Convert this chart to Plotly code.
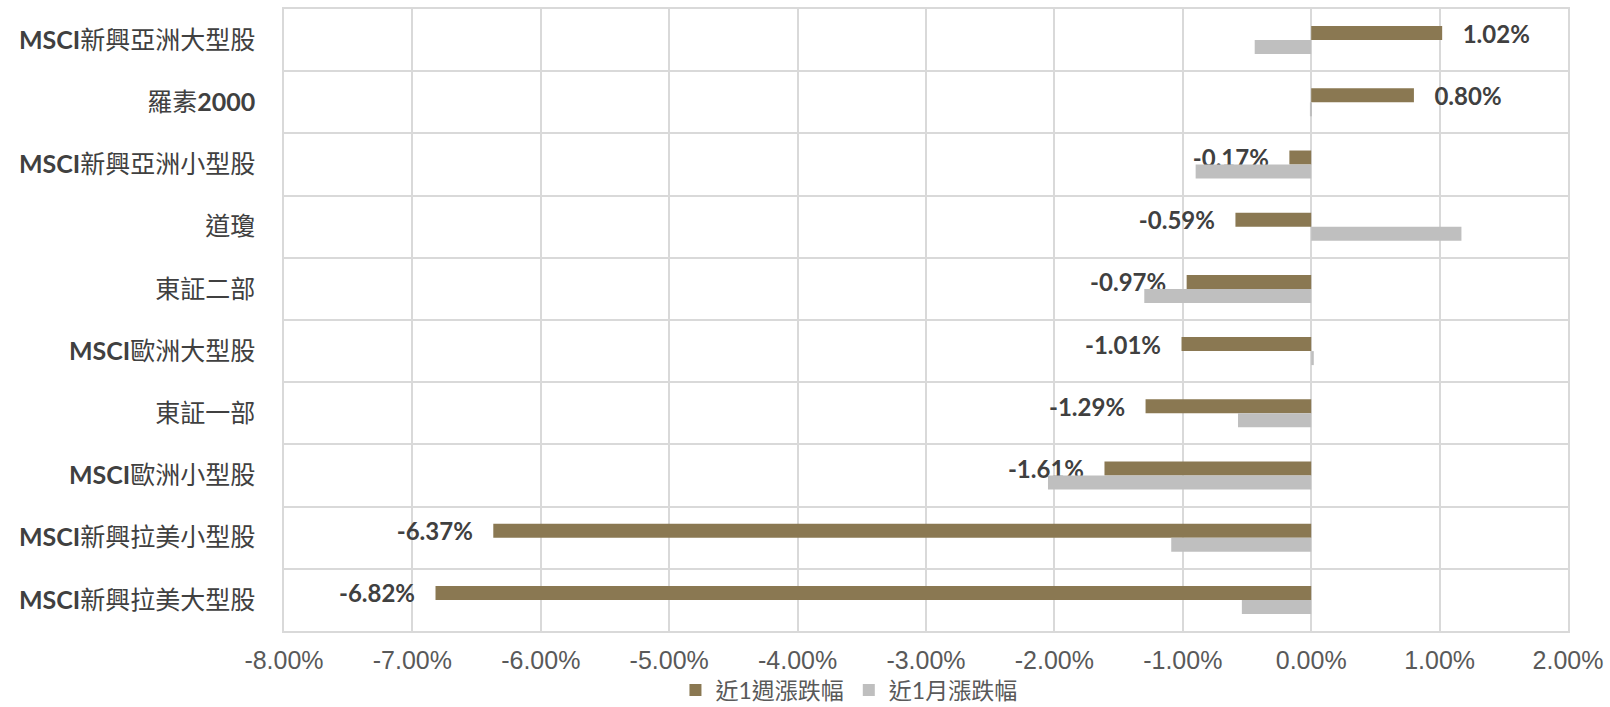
import re
import plotly.graph_objects as go

categories = ["MSCI新興亞洲大型股", "羅素2000", "MSCI新興亞洲小型股", "道瓊", "東証二部",
              "MSCI歐洲大型股", "東証一部", "MSCI歐洲小型股", "MSCI新興拉美小型股", "MSCI新興拉美大型股"]
week_chg = [1.02, 0.80, -0.17, -0.59, -0.97, -1.01, -1.29, -1.61, -6.37, -6.82]
month_chg = [-0.44, -0.01, -0.90, 1.17, -1.30, 0.02, -0.57, -2.05, -1.09, -0.54]
x_ticks = [-8, -7, -6, -5, -4, -3, -2, -1, 0, 1, 2]
series_names = ["近1週漲跌幅", "近1月漲跌幅"]

BROWN = "#8A7852"
GRAY = "#BFBFBF"
GRID = "#D9D9D9"
CJK = "Lato, 'Noto Sans CJK TC', sans-serif"

pad = "\u00a0\u00a0\u00a0"
week_text = [(pad + f"{v:.2f}%") if v >= 0 else (f"{v:.2f}%" + pad) for v in week_chg]

def bold_latin(s):
    return re.sub(r"([A-Za-z0-9]+)", r"<b>\1</b>", s)

fig = go.Figure()
fig.add_trace(go.Bar(
    y=categories, x=week_chg, orientation="h", name=series_names[0],
    marker=dict(color=BROWN, line=dict(width=0)),
    text=week_text, textposition="outside", constraintext="none", cliponaxis=False,
    textfont=dict(family=CJK, size=24, color="#404040", weight="bold"),
))
fig.add_trace(go.Bar(
    y=categories, x=month_chg, orientation="h", name=series_names[1],
    marker=dict(color=GRAY, line=dict(width=0)),
))

fig.update_layout(
    width=1610, height=707,
    margin=dict(l=284, r=42, t=9, b=76, autoexpand=False),
    paper_bgcolor="white", plot_bgcolor="white",
    barmode="group", bargap=0.55, bargroupgap=0,
    showlegend=True,
    legend=dict(orientation="h", x=0.44, xanchor="center", y=-0.095, yanchor="middle",
                font=dict(family=CJK, size=23, color="#595959"),
                itemwidth=30, traceorder="normal", bgcolor="rgba(0,0,0,0)",
                tracegroupgap=0, borderwidth=0),
    xaxis=dict(range=[-8, 2], tickvals=x_ticks,
               ticktext=[f"{t:.2f}%" for t in x_ticks],
               showgrid=True, gridcolor=GRID, gridwidth=1.5,
               zeroline=True, zerolinecolor=GRID, zerolinewidth=1.5,
               showline=True, linecolor=GRID, linewidth=1.5, mirror=True,
               ticks="", ticklabelstandoff=6, automargin=False,
               tickfont=dict(family="'Liberation Sans', Arial, sans-serif", size=25, color="#595959")),
    yaxis=dict(type="category", autorange="reversed",
               tickvals=categories, ticktext=[bold_latin(c) for c in categories],
               tickson="boundaries", showgrid=True, gridcolor=GRID, gridwidth=1.5,
               showline=True, linecolor=GRID, linewidth=1.5, mirror=True,
               ticks="", ticklabelstandoff=22, automargin=False,
               tickfont=dict(family=CJK, size=25, color="#404040")),
)

fig.write_html("out.html")
